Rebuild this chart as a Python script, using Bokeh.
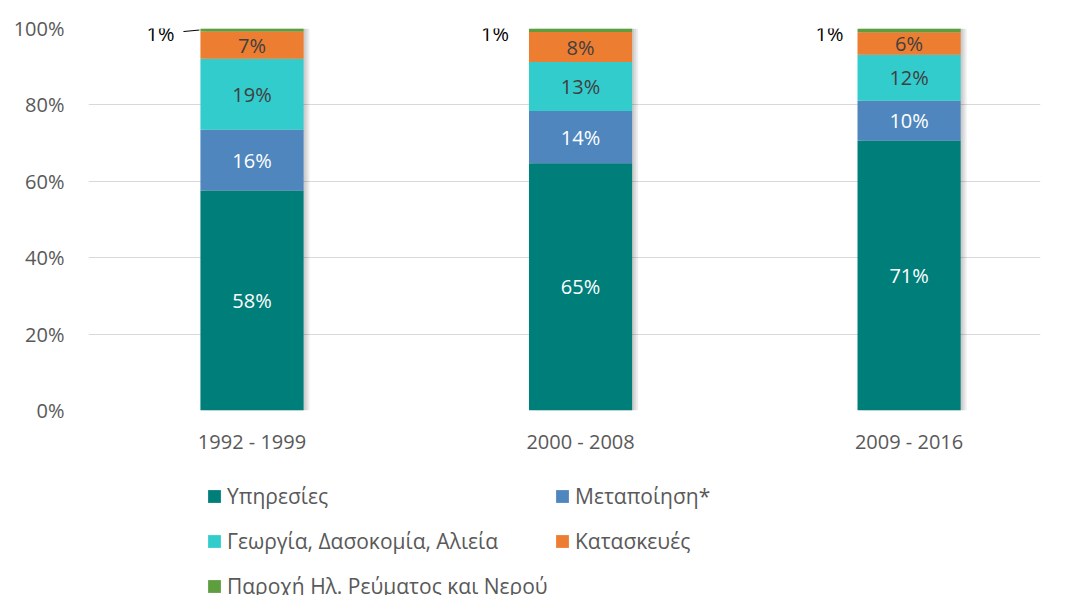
from bokeh.plotting import figure
from bokeh.layouts import column
from bokeh.models import (ColumnDataSource, Range1d, FixedTicker, PrintfTickFormatter,
                          Legend, LegendItem)
from bokeh.core.properties import value
from bokeh.embed import file_html
from bokeh.resources import INLINE

# ---------------- data ----------------
periods = ["1992 - 1999", "2000 - 2008", "2009 - 2016"]
series_names = ["Υπηρεσίες", "Μεταποίηση*", "Γεωργία, Δασοκομία, Αλιεία",
                "Κατασκευές", "Παροχή Ηλ. Ρεύματος και Νερού"]
services = [57.6, 64.7, 70.7]
manufacturing = [15.9, 13.7, 10.4]
agriculture = [18.6, 12.8, 12.0]
construction = [7.1, 7.9, 5.9]
utilities = [0.8, 0.9, 1.0]
y_ticks = [0, 20, 40, 60, 80, 100]

series = [services, manufacturing, agriculture, construction, utilities]
colors = ["#007E7A", "#4F86BE", "#33CCCC", "#ED7D31", "#5E9E3E"]
label_colors = ["#FFFFFF", "#FFFFFF", "#404040", "#404040", "#000000"]

FONT = "Open Sans"
BAR_W = 0.314
PX = 1 / 328.5  # one screen pixel in x data units
SMALL_LABEL_DX = [-26, -20, -14]  # screen offsets of the outside "1%" labels

xs = list(range(len(periods)))

p = figure(width=1058, height=460, output_backend="svg", toolbar_location=None,
           x_range=Range1d(-0.4977, 2.400), y_range=Range1d(0, 100),
           min_border_left=88, min_border_right=18, min_border_top=28,
           min_border_bottom=50)
p.outline_line_color = None
p.background_fill_color = "white"
p.border_fill_color = "white"

# axes
p.xaxis.ticker = FixedTicker(ticks=xs)
p.xaxis.major_label_overrides = {i: periods[i] for i in xs}
p.xaxis.axis_line_color = None
p.xaxis.major_tick_line_color = None
p.xaxis.minor_tick_line_color = None
p.xaxis.major_tick_out = 0
p.xaxis.major_label_text_font = FONT
p.xaxis.major_label_text_font_size = "20px"
p.xaxis.major_label_text_color = "#595959"
p.xaxis.major_label_standoff = 17

p.yaxis.ticker = FixedTicker(ticks=y_ticks)
p.yaxis.formatter = PrintfTickFormatter(format="%d%%")
p.yaxis.axis_line_color = None
p.yaxis.major_tick_line_color = None
p.yaxis.minor_tick_line_color = None
p.yaxis.major_tick_out = 0
p.yaxis.major_label_text_font = FONT
p.yaxis.major_label_text_font_size = "20px"
p.yaxis.major_label_text_color = "#595959"
p.yaxis.major_label_standoff = 24

p.xgrid.grid_line_color = None
p.ygrid.grid_line_color = "#D9D9D9"
p.ygrid.grid_line_width = 1

# soft shadow to the right of each bar
totals = [sum(s[i] for s in series) for i in range(len(xs))]
for k in (2, 4, 6):
    p.vbar(x=[x + k * PX for x in xs], bottom=0, top=totals, width=BAR_W,
           fill_color="#000000", fill_alpha=0.07, line_color=None)

# stacked bars
bottoms = [0.0] * len(xs)
for name, vals, col, lcol in zip(series_names, series, colors, label_colors):
    tops = [b + v for b, v in zip(bottoms, vals)]
    mids = [(b + t) / 2 for b, t in zip(bottoms, tops)]
    labels = [f"{round(v)}%" for v in vals]
    src = ColumnDataSource(dict(x=xs, bottom=bottoms, top=tops, mid=mids, label=labels,
                                left=[x - BAR_W / 2 for x in xs], dx=SMALL_LABEL_DX))
    p.vbar(x="x", bottom="bottom", top="top", width=BAR_W, source=src,
           fill_color=col, line_color=None)
    if name != series_names[-1]:
        p.text(x="x", y="mid", text="label", source=src, text_align="center",
               text_baseline="middle", text_color=lcol, text_font=value(FONT),
               text_font_size="20px")
    else:
        p.text(x="left", y="mid", text="label", source=src, text_align="right",
               text_baseline="middle", text_color=lcol, text_font=value(FONT),
               text_font_size="20px", x_offset="dx", y_offset=3)
        # leader line for the first bar
        lx = xs[0] - BAR_W / 2
        p.segment(x0=[lx - 17 * PX], x1=[lx - 1 * PX], y0=[mids[0] - 0.4], y1=[mids[0]],
                  line_color="#000000", line_width=1)
    bottoms = tops

# ---------------- legend area (separate canvas below the chart) ----------------
q = figure(width=1058, height=135, output_backend="svg", toolbar_location=None,
           min_border=0, x_range=Range1d(0, 1), y_range=Range1d(0, 1),
           x_axis_location=None, y_axis_location=None)
q.grid.visible = False
q.outline_line_color = None
q.border_fill_color = "white"
q.background_fill_color = "white"

# legend swatch renderers (placed outside the visible range)
swatches = [q.vbar(x=[0.5], bottom=[-6], top=[-5], width=0.1, fill_color=c, line_color=None)
            for c in colors]


def make_legend(idx, loc):
    lg = Legend(items=[LegendItem(label=series_names[i], renderers=[swatches[i]]) for i in idx],
                location=loc, orientation="vertical",
                label_text_font=FONT, label_text_font_size="21px",
                label_text_color="#595959", glyph_width=16, glyph_height=16,
                label_standoff=5, label_height=29, spacing=16, padding=0, margin=0,
                border_line_color=None, background_fill_alpha=0)
    q.add_layout(lg, "center")


make_legend([0, 2, 4], (118, -5))
make_legend([1, 3], (466, 40))

layout = column(p, q, spacing=0)
open("out.html", "w").write(file_html(layout, INLINE))
